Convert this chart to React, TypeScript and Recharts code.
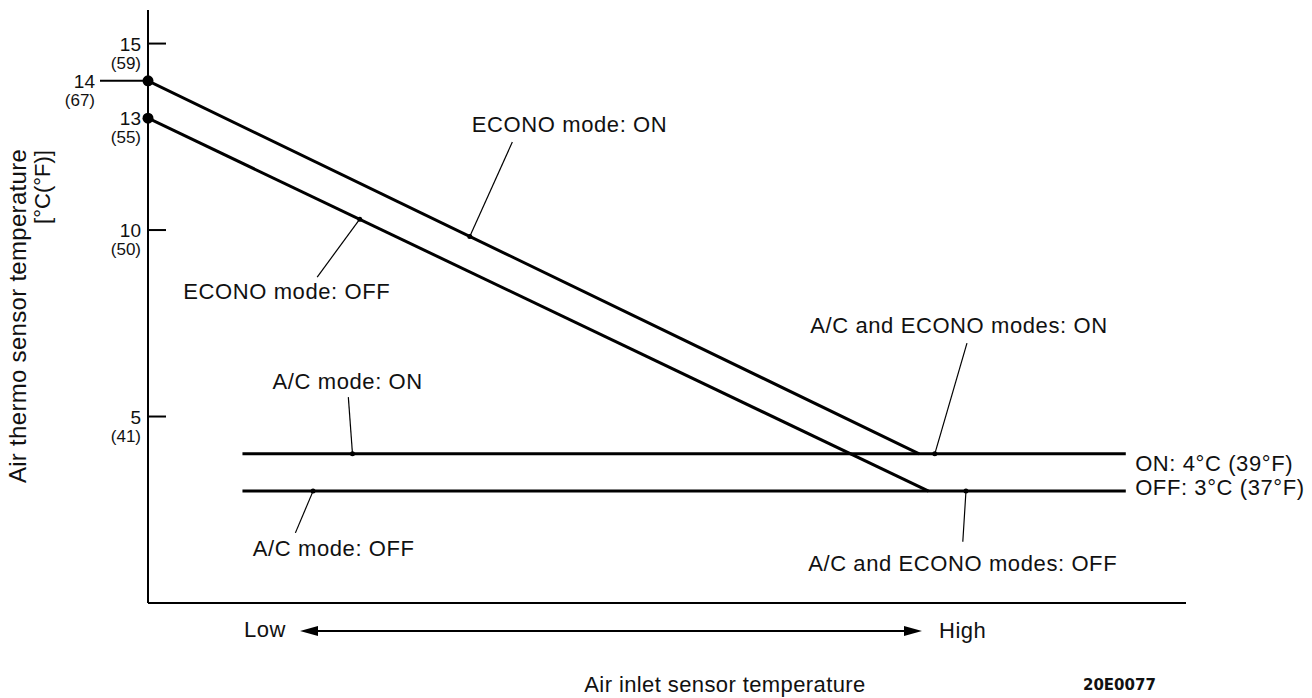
import { LineChart, Line, XAxis, YAxis, ReferenceLine, ReferenceDot, Label } from 'recharts';

// x is a relative "air inlet temperature" scale (0 = Low end of axis, 100 = right end)
const econoOn = [{ x: 0, y: 14 }, { x: 74.3, y: 4 }];
const econoOff = [{ x: 0, y: 13 }, { x: 75.2, y: 3 }];
const acOn = [{ x: 9.1, y: 4 }, { x: 94.2, y: 4 }];
const acOff = [{ x: 9.1, y: 3 }, { x: 94.2, y: 3 }];

const yTicks = [5, 10, 13, 14, 15];
const yTicksF = ['(41)', '(50)', '(55)', '(67)', '(59)'];

// callouts: text anchor, leader end near text, leader dot on the line
const notes = [
  { text: 'ECONO mode: ON', tx: 31.2, ty: 12.84, lx: 35.1, ly: 12.36, dx: 31.0, dy: 9.83 },
  { text: 'ECONO mode: OFF', tx: 3.4, ty: 8.34, lx: 16.3, ly: 8.74, dx: 20.4, dy: 10.29 },
  { text: 'A/C mode: ON', tx: 12.0, ty: 5.95, lx: 19.3, ly: 5.52, dx: 19.7, dy: 4 },
  { text: 'A/C mode: OFF', tx: 10.1, ty: 1.45, lx: 14.2, ly: 1.88, dx: 15.9, dy: 3 },
  { text: 'A/C and ECONO modes: ON', tx: 63.8, ty: 7.43, lx: 78.9, ly: 6.97, dx: 75.8, dy: 4 },
  { text: 'A/C and ECONO modes: OFF', tx: 63.6, ty: 1.07, lx: 78.5, ly: 1.64, dx: 78.8, dy: 3 },
];
const sideLabels = [
  { text: 'ON: 4°C (39°F)', x: 95.1, y: 3.75 },
  { text: 'OFF: 3°C (37°F)', x: 95.1, y: 3.11 },
];

const FONT = '"Liberation Sans", Arial, Helvetica, sans-serif';

const YTick = (props: any) => {
  const { x, y, payload } = props;
  const i = yTicks.indexOf(payload.value);
  const left = payload.value === 14;
  const tx = left ? x - 53 : x - 7;
  return (
    <g fontFamily={FONT} fill="#111">
      {payload.value !== 13 && (
        <line x1={left ? x - 48 : x} x2={left ? x : x + 18} y1={y} y2={y} stroke="#000" strokeWidth={2} />
      )}
      <text x={tx} y={y + 7} textAnchor="end" fontSize={19}>{payload.value}</text>
      <text x={tx} y={y + 25} textAnchor="end" fontSize={17}>{yTicksF[i]}</text>
    </g>
  );
};

const YTitle = (props: any) => {
  const vb = props.viewBox;
  const cy = vb.y + 306;
  return (
    <g fontFamily={FONT} fill="#111">
      <text x={17} y={cy} transform={`rotate(-90 17 ${cy})`} textAnchor="middle" dominantBaseline="central" fontSize={24} letterSpacing={0.3}>
        Air thermo sensor temperature
      </text>
      <text x={42} y={vb.y + 177} transform={`rotate(-90 42 ${vb.y + 177})`} textAnchor="middle" dominantBaseline="central" fontSize={22}>
        [°C(°F)]
      </text>
    </g>
  );
};

const XTitle = (props: any) => {
  const vb = props.viewBox;
  const x0 = vb.x;
  const y0 = vb.y;
  const ay = y0 + 28;
  const a1 = x0 + 152;
  const a2 = x0 + 774;
  return (
    <g fontFamily={FONT} fill="#111">
      <text x={x0 + 96} y={y0 + 34} fontSize={22} letterSpacing={0.5}>Low</text>
      <line x1={a1 + 14} x2={a2 - 14} y1={ay} y2={ay} stroke="#000" strokeWidth={2} />
      <polygon points={`${a1},${ay} ${a1 + 18},${ay - 5} ${a1 + 18},${ay + 5}`} fill="#000" />
      <polygon points={`${a2},${ay} ${a2 - 18},${ay - 5} ${a2 - 18},${ay + 5}`} fill="#000" />
      <text x={x0 + 791} y={y0 + 35} fontSize={22} letterSpacing={0.5}>High</text>
      <text x={x0 + 577} y={y0 + 89} textAnchor="middle" fontSize={22} letterSpacing={0.4}>Air inlet sensor temperature</text>
      <text x={x0 + 935} y={y0 + 87} fontSize={15} fontWeight="bold" fontFamily='"DejaVu Sans", sans-serif'>20E0077</text>
    </g>
  );
};

const NoteText = (text: string) => (props: any) => {
  const vb = props.viewBox;
  return (
    <text x={vb.x} y={vb.y} dominantBaseline="central" fontFamily={FONT} fontSize={22} letterSpacing={0.6} fill="#111">
      {text}
    </text>
  );
};

const App = () => {
  return (
    <div style={{ position: 'absolute', left: 0, top: 0, background: '#fff' }}>
      <LineChart width={1312} height={698} margin={{ top: 10, right: 126, bottom: 0, left: 0 }}>
        <XAxis
          type="number"
          dataKey="x"
          domain={[0, 100]}
          allowDataOverflow
          tick={false}
          tickLine={false}
          axisLine={{ stroke: '#000', strokeWidth: 2 }}
          height={95}
        >
          <Label content={XTitle} />
        </XAxis>
        <YAxis
          type="number"
          domain={[0, 15.9]}
          allowDataOverflow
          ticks={yTicks}
          tick={YTick}
          tickLine={false}
          tickSize={0}
          tickMargin={0}
          axisLine={{ stroke: '#000', strokeWidth: 2 }}
          width={148}
        >
          <Label content={YTitle} />
        </YAxis>

        <Line data={econoOn} dataKey="y" stroke="#000" strokeWidth={3} dot={false} isAnimationActive={false} />
        <Line data={econoOff} dataKey="y" stroke="#000" strokeWidth={3} dot={false} isAnimationActive={false} />
        <Line data={acOn} dataKey="y" stroke="#000" strokeWidth={3} dot={false} isAnimationActive={false} />
        <Line data={acOff} dataKey="y" stroke="#000" strokeWidth={3} dot={false} isAnimationActive={false} />

        <ReferenceDot x={econoOn[0].x} y={econoOn[0].y} r={5.5} fill="#000" stroke="none" ifOverflow="visible" />
        <ReferenceDot x={econoOff[0].x} y={econoOff[0].y} r={5.5} fill="#000" stroke="none" ifOverflow="visible" />

        {notes.map((n) => (
          <ReferenceLine
            key={'l' + n.text}
            segment={[{ x: n.dx, y: n.dy }, { x: n.lx, y: n.ly }]}
            stroke="#000"
            strokeWidth={1.2}
            ifOverflow="visible"
          />
        ))}
        {notes.map((n) => (
          <ReferenceDot key={'d' + n.text} x={n.dx} y={n.dy} r={2.5} fill="#000" stroke="none" ifOverflow="visible" />
        ))}
        {notes.map((n) => (
          <ReferenceDot
            key={'t' + n.text}
            x={n.tx}
            y={n.ty}
            r={0}
            fill="none"
            stroke="none"
            ifOverflow="visible"
            label={NoteText(n.text)}
          />
        ))}
        {sideLabels.map((s) => (
          <ReferenceDot
            key={s.text}
            x={s.x}
            y={s.y}
            r={0}
            fill="none"
            stroke="none"
            ifOverflow="visible"
            label={NoteText(s.text)}
          />
        ))}
      </LineChart>
    </div>
  );
};

export default App;
